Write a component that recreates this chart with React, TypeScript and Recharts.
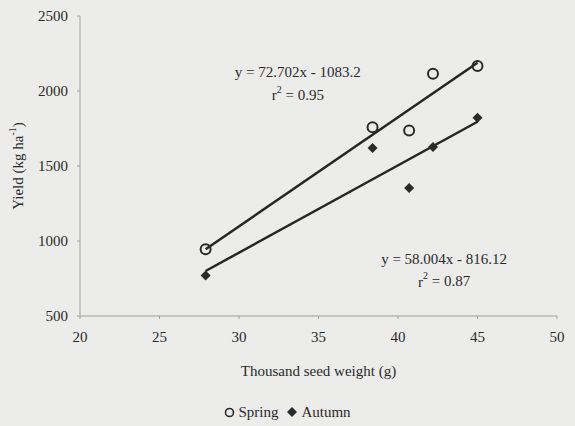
import React from 'react';
import { ScatterChart, Scatter, XAxis, YAxis, ReferenceDot, Legend, Label } from 'recharts';

const xTicks = [20, 25, 30, 35, 40, 45, 50];
const yTicks = [500, 1000, 1500, 2000, 2500];

const springData = [
  { x: 27.9, y: 945 },
  { x: 38.4, y: 1758 },
  { x: 40.7, y: 1737 },
  { x: 42.2, y: 2115 },
  { x: 45.0, y: 2167 },
];
const autumnData = [
  { x: 27.9, y: 770 },
  { x: 38.4, y: 1620 },
  { x: 40.7, y: 1354 },
  { x: 42.2, y: 1626 },
  { x: 45.0, y: 1821 },
];
const springTrend = [
  { x: 27.9, y: 945 },
  { x: 45.0, y: 2188 },
];
const autumnTrend = [
  { x: 27.9, y: 800 },
  { x: 45.0, y: 1795 },
];
const springEq = ['y = 72.702x - 1083.2', '0.95'];
const autumnEq = ['y = 58.004x - 816.12', '0.87'];

const FONT = '"Liberation Serif", "DejaVu Serif", serif';
const INK = '#2a2a2a';
const AXIS = '#a0a0a0';
const BG = '#ececea';

const OpenCircle = (props: any) => {
  const { cx, cy } = props;
  if (cx == null || cy == null) return null;
  return <circle cx={cx} cy={cy} r={5} fill="none" stroke={INK} strokeWidth={2} />;
};

const Diamond = (props: any) => {
  const { cx, cy } = props;
  if (cx == null || cy == null) return null;
  const s = 5;
  return (
    <polygon
      points={`${cx},${cy - s} ${cx + s},${cy} ${cx},${cy + s} ${cx - s},${cy}`}
      fill={INK}
    />
  );
};

const NoShape = () => <g />;

const makeEqLabel = (eq: string[]) => (props: any) => {
  const vb = props.viewBox || {};
  const cx = vb.cx != null ? vb.cx : (vb.x || 0) + (vb.width || 0) / 2;
  const cy = vb.cy != null ? vb.cy : (vb.y || 0) + (vb.height || 0) / 2;
  return (
    <g fontFamily={FONT} fontSize={15} fill={INK}>
      <text x={cx} y={cy} textAnchor="middle" dominantBaseline="middle">
        {eq[0]}
      </text>
      <text x={cx} y={cy + 23} textAnchor="middle" dominantBaseline="middle">
        r
        <tspan fontSize={10} dy={-6}>2</tspan>
        <tspan dy={6}> = {eq[1]}</tspan>
      </text>
    </g>
  );
};

const YTitle = (props: any) => {
  const vb = props.viewBox || {};
  const cy = (vb.y || 0) + (vb.height || 0) / 2;
  const x = 20;
  return (
    <text
      x={x}
      y={cy}
      transform={`rotate(-90 ${x} ${cy})`}
      textAnchor="middle"
      dominantBaseline="middle"
      fontFamily={FONT}
      fontSize={15}
      fill={INK}
    >
      Yield (kg ha
      <tspan fontSize={10} dy={-6}>-1</tspan>
      <tspan dy={6}>)</tspan>
    </text>
  );
};

const LegendContent = () => (
  <div
    style={{
      width: 575,
      textAlign: 'center',
      fontFamily: FONT,
      fontSize: 15,
      color: INK,
      lineHeight: '18px',
    }}
  >
    <svg width={11} height={11} style={{ verticalAlign: '-1px', marginRight: 3 }}>
      <circle cx={5.5} cy={5.5} r={4} fill="none" stroke={INK} strokeWidth={1.6} />
    </svg>
    Spring
    <svg width={12} height={12} style={{ verticalAlign: '-1px', marginLeft: 8, marginRight: 3 }}>
      <polygon points="6,1 11,6 6,11 1,6" fill={INK} />
    </svg>
    Autumn
  </div>
);

export default function App() {
  return (
    <div style={{ position: 'absolute', left: 0, top: 0, width: 575, height: 426, background: BG }}>
      <ScatterChart width={575} height={426} margin={{ top: 16, right: 18, left: 0, bottom: 32 }}>
        <XAxis
          type="number"
          dataKey="x"
          domain={[20, 50]}
          ticks={xTicks}
          allowDataOverflow
          height={60}
          stroke={AXIS}
          tickSize={3}
          tickMargin={12}
          tick={{ fill: INK, fontFamily: FONT, fontSize: 15 }}
        >
          <Label
            value="Thousand seed weight (g)"
            position="insideBottom"
            offset={0}
            style={{ fill: INK, fontFamily: FONT, fontSize: 15 }}
          />
        </XAxis>
        <YAxis
          type="number"
          dataKey="y"
          domain={[500, 2500]}
          ticks={yTicks}
          allowDataOverflow
          width={80}
          stroke={AXIS}
          tickSize={3}
          tickMargin={9}
          tick={{ fill: INK, fontFamily: FONT, fontSize: 15 }}
        >
          <Label content={<YTitle />} />
        </YAxis>
        <Scatter
          data={springTrend}
          line={{ stroke: '#262626', strokeWidth: 2.5 }}
          shape={<NoShape />}
          isAnimationActive={false}
          legendType="none"
        />
        <Scatter
          data={autumnTrend}
          line={{ stroke: '#262626', strokeWidth: 2.5 }}
          shape={<NoShape />}
          isAnimationActive={false}
          legendType="none"
        />
        <Scatter name="Spring" data={springData} shape={<OpenCircle />} isAnimationActive={false} />
        <Scatter name="Autumn" data={autumnData} shape={<Diamond />} isAnimationActive={false} />
        <ReferenceDot x={33.7} y={2116} r={0} ifOverflow="visible" label={makeEqLabel(springEq)} />
        <ReferenceDot x={42.9} y={871} r={0} ifOverflow="visible" label={makeEqLabel(autumnEq)} />
        <Legend
          verticalAlign="bottom"
          content={<LegendContent />}
          wrapperStyle={{ position: 'absolute', left: 0, top: 403, width: 575 }}
        />
      </ScatterChart>
    </div>
  );
}
